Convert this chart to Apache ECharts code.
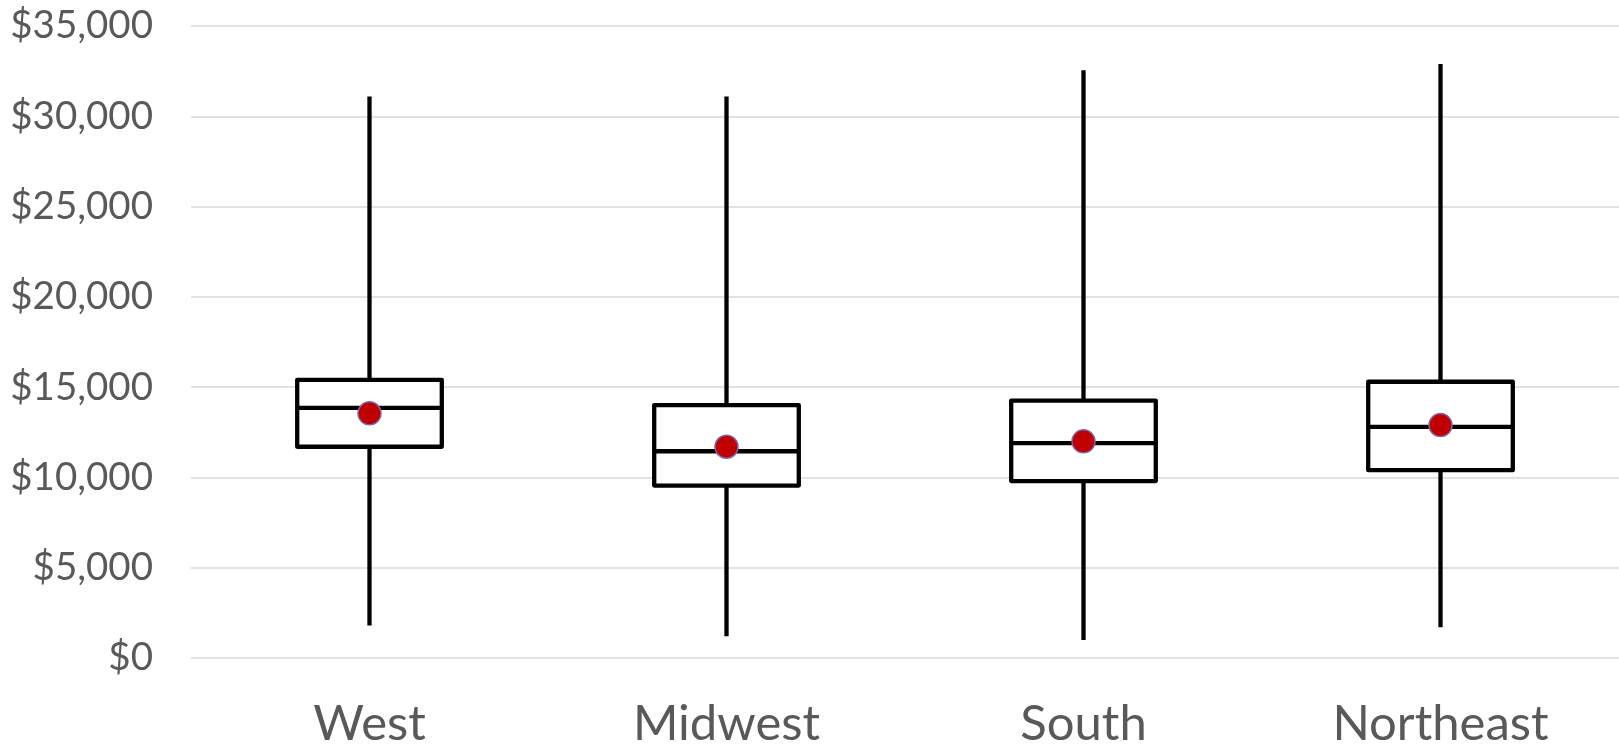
<!DOCTYPE html>
<html>
<head>
<meta charset="utf-8">
<script src="https://cdn.jsdelivr.net/npm/echarts@6/dist/echarts.min.js"></script>
<style>
html,body{margin:0;padding:0;background:#fff;}
#chart{width:1619px;height:748px;}
</style>
</head>
<body>
<div id="chart"></div>
<script>
const categories = ['West', 'Midwest', 'South', 'Northeast'];
const minValues    = [1800, 1200, 1000, 1700];
const q1Values     = [11700, 9550, 9800, 10400];
const medianValues = [13850, 11450, 11900, 12800];
const q3Values     = [15400, 14000, 14250, 15300];
const maxValues    = [31100, 31100, 32550, 32900];
const meanValues   = [13550, 11700, 12000, 12900];
const yTicks = [0, 5000, 10000, 15000, 20000, 25000, 30000, 35000];

const boxData = categories.map((c, i) => [i, minValues[i], q1Values[i], medianValues[i], q3Values[i], maxValues[i]]);
const meanData = categories.map((c, i) => [i, meanValues[i]]);

const chart = echarts.init(document.getElementById('chart'));
const fontFam = 'Lato, "Open Sans", sans-serif';
const LW = 4.3;

function renderBox(params, api) {
  const x = api.value(0);
  const pMin = api.coord([x, api.value(1)]);
  const pQ1 = api.coord([x, api.value(2)]);
  const pMed = api.coord([x, api.value(3)]);
  const pQ3 = api.coord([x, api.value(4)]);
  const pMax = api.coord([x, api.value(5)]);
  const bw = api.size([1, 0])[0] * 0.405;
  const cx = pMed[0];
  const st = {stroke: '#000', lineWidth: LW, fill: null, lineJoin: 'round'};
  return {
    type: 'group',
    children: [
      {type: 'line', shape: {x1: cx, y1: pMax[1], x2: cx, y2: pQ3[1]}, style: st},
      {type: 'line', shape: {x1: cx, y1: pQ1[1], x2: cx, y2: pMin[1]}, style: st},
      {type: 'rect', shape: {x: cx - bw / 2, y: pQ3[1], width: bw, height: pQ1[1] - pQ3[1]}, style: {stroke: '#000', lineWidth: LW, fill: '#fff', lineJoin: 'round'}},
      {type: 'line', shape: {x1: cx - bw / 2, y1: pMed[1], x2: cx + bw / 2, y2: pMed[1]}, style: st}
    ]
  };
}

chart.setOption({
  animation: false,
  backgroundColor: '#fff',
  grid: {left: 191, right: 0, top: 26, bottom: 90, containLabel: false, outerBoundsMode: 'none'},
  xAxis: {
    type: 'category',
    data: categories,
    axisLine: {show: false},
    axisTick: {show: false},
    axisLabel: {color: '#595959', fontSize: 49, fontFamily: fontFam, margin: 42}
  },
  yAxis: {
    type: 'value',
    min: yTicks[0],
    max: yTicks[yTicks.length - 1],
    interval: 5000,
    axisLine: {show: false},
    axisTick: {show: false},
    splitLine: {lineStyle: {color: '#d9d9d9', width: 1.5}},
    axisLabel: {
      color: '#595959', fontSize: 38.5, fontFamily: fontFam, margin: 38,
      formatter: v => '$' + String(v).replace(/\B(?=(\d{3})+(?!\d))/g, ',')
    }
  },
  series: [
    {
      type: 'custom',
      renderItem: renderBox,
      data: boxData,
      encode: {x: 0, y: [1, 2, 3, 4, 5]},
      z: 2
    },
    {
      type: 'scatter',
      data: meanData,
      symbol: 'circle',
      symbolSize: 23,
      itemStyle: {color: '#C00000', borderColor: '#7A6AAE', borderWidth: 1.5, opacity: 1},
      z: 3
    }
  ]
});
</script>
</body>
</html>
